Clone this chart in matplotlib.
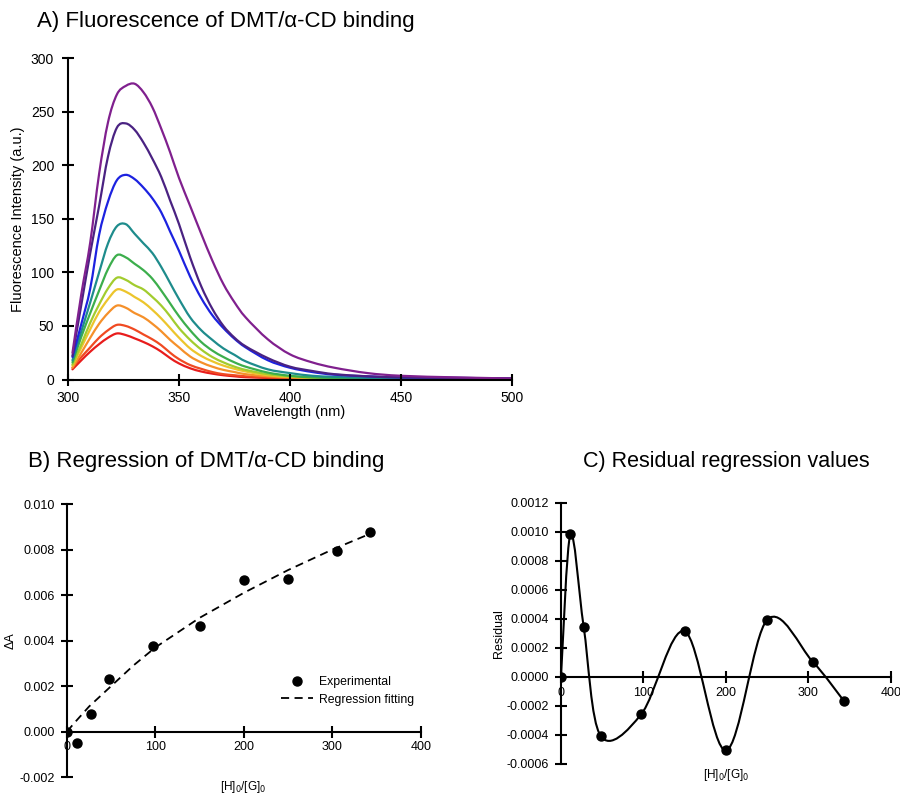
import matplotlib
matplotlib.use("Agg")
import matplotlib.pyplot as plt
from matplotlib.path import Path
from matplotlib.patches import PathPatch
from matplotlib.ticker import FormatStrFormatter, MultipleLocator

plt.rcParams['font.family'] = ['Liberation Sans', 'DejaVu Sans']
plt.rcParams['axes.unicode_minus'] = False

# ---------------- Panel A data ----------------
wavelength = [302, 306, 310, 314, 318, 322, 326, 330, 334, 338, 342, 346, 350, 355,
              360, 365, 370, 375, 380, 390, 400, 410, 420, 435, 450, 475, 500]
s_purple = [25, 80, 128, 192, 240, 266, 274, 276, 268, 254, 234, 212, 188, 162,
            136, 111, 89, 72, 58, 37.5, 23.5, 16, 11, 6, 3.5, 2, 1]
s_indigo = [22, 70, 118, 162, 208, 235, 239, 233, 221, 206, 189, 167, 145, 114,
            87, 66, 50, 39, 31, 20, 12, 8, 5, 3, 2, 1.5, 1]
s_blue = [21, 52, 85, 135, 166, 186, 191, 187, 179, 169, 156, 138, 120, 96,
          76, 60, 48, 38, 30, 18, 11, 7, 4.5, 3, 2, 1.5, 1]
s_teal = [18, 45, 72, 100, 127, 143, 145, 136, 127, 118, 105, 90, 75, 58,
          46, 37, 29, 23, 17, 9.5, 6, 3.5, 2.5, 1.5, 1, 0.8, 0.5]
s_green = [16, 40, 62, 83, 103, 116, 114, 108, 102, 94, 83, 71, 59, 46,
           35, 27, 21, 16, 12, 6.5, 3.5, 2, 1.5, 1, 0.8, 0.5, 0.5]
s_ygreen = [14, 33, 53, 70, 85, 95, 93, 88, 84, 77, 69, 59, 48, 37,
            28, 21, 16, 12, 9, 5, 3, 2, 1.2, 0.8, 0.6, 0.5, 0.4]
s_yellow = [13, 30, 47, 63, 75, 84, 82, 77, 72, 65, 57, 48, 39, 29,
            22, 17, 13, 10, 7.5, 4, 2.5, 1.5, 1, 0.7, 0.5, 0.4, 0.3]
s_orange = [11, 25, 39, 52, 62, 69, 67, 62, 58, 52, 45, 37, 30, 21.5,
            16, 12, 9, 7, 5, 3, 2, 1.2, 0.8, 0.6, 0.5, 0.4, 0.3]
s_redor = [11, 21, 30, 39, 46, 51, 50, 46.6, 42, 37.5, 32, 25, 19, 13.5,
           10, 7, 5, 4, 3, 2, 1.2, 1, 0.8, 0.6, 0.5, 0.4, 0.3]
s_red = [9.5, 18, 26, 33, 39, 43, 41.5, 38.4, 35, 31, 26, 20, 15, 10.5,
         7.5, 5.5, 4, 3, 2.2, 1.5, 1, 0.8, 0.6, 0.5, 0.4, 0.3, 0.3]
spectra = [s_red, s_redor, s_orange, s_yellow, s_ygreen, s_green, s_teal, s_blue, s_indigo, s_purple]
spectra_colors = ['#e81c1c', '#f04a22', '#f5902a', '#ecc52c', '#a2cc2e', '#3cae4c',
                  '#1e8c8c', '#1c22e0', '#4a2282', '#80208e']

# ---------------- Panel B data ----------------
ratio = [0, 11.5, 27.5, 48, 97.5, 150, 200, 250, 305, 343]
delta_a = [0.0, -0.00051, 0.00077, 0.00232, 0.00378, 0.00466, 0.00664, 0.00672, 0.00795, 0.00877]
fit_x = [0, 10, 25, 50, 75, 100, 150, 200, 250, 300, 343]
fit_y = [0.0, 0.00045, 0.0011, 0.0020, 0.0029, 0.0037, 0.0050, 0.0061, 0.0071, 0.0080, 0.0087]

# ---------------- Panel C data ----------------
residual = [0.0, 0.000986, 0.000347, -0.000405, -0.000255, 0.000315, -0.000506, 0.000395, 0.000106, -0.000166]


def smooth_path(xs, ys):
    """Excel-style smoothed line: cubic Bezier segments through the given points."""
    verts = [(xs[0], ys[0])]
    codes = [Path.MOVETO]
    n = len(xs)
    for i in range(n - 1):
        x0, y0 = xs[i], ys[i]
        x1, y1 = xs[i + 1], ys[i + 1]
        xm, ym = (xs[i - 1], ys[i - 1]) if i > 0 else (x0, y0)
        xp, yp = (xs[i + 2], ys[i + 2]) if i + 2 < n else (x1, y1)
        c1 = (x0 + (x1 - xm) / 6, y0 + (y1 - ym) / 6)
        c2 = (x1 - (xp - x0) / 6, y1 - (yp - y0) / 6)
        verts += [c1, c2, (x1, y1)]
        codes += [Path.CURVE4, Path.CURVE4, Path.CURVE4]
    return Path(verts, codes)


fig = plt.figure(figsize=(9, 7.95), dpi=100)

tick_kw = dict(direction='inout', length=8, width=1.5, colors='black')

# ---------------- Panel A ----------------
axA = fig.add_axes([0.0756, 0.5226, 0.4933, 0.4044])
for s, c in zip(spectra, spectra_colors):
    axA.add_patch(PathPatch(smooth_path(wavelength, s), facecolor='none', edgecolor=c,
                            lw=1.6, joinstyle='round', capstyle='round'))
axA.set_xlim(300, 500)
axA.set_ylim(0, 300)
axA.xaxis.set_major_locator(MultipleLocator(50))
axA.yaxis.set_major_locator(MultipleLocator(50))
for side in ['top', 'right']:
    axA.spines[side].set_visible(False)
for side in ['left', 'bottom']:
    axA.spines[side].set_linewidth(1.5)
axA.tick_params(axis='both', labelsize=10, pad=4, **tick_kw)
axA.tick_params(axis='y', pad=6)
axA.set_xlabel('Wavelength (nm)', fontsize=10.5)
axA.set_ylabel('Fluorescence Intensity (a.u.)', fontsize=10.5)
axA.xaxis.set_label_coords(0.5, -0.078)
axA.yaxis.set_label_coords(-0.097, 0.5)
fig.text(37 / 900, 1 - 22 / 795, 'A) Fluorescence of DMT/α-CD binding', fontsize=16,
         ha='left', va='center')

# ---------------- Panel B ----------------
axB = fig.add_axes([0.0744, 0.0226, 0.3933, 0.3434])
axB.plot(ratio, delta_a, 'o', color='black', ms=6.5, label='Experimental', zorder=3)
axB.plot(fit_x, fit_y, '--', color='black', lw=1.3, dashes=(4.5, 3), label='Regression fitting')
axB.set_xlim(0, 400)
axB.set_ylim(-0.002, 0.010)
axB.xaxis.set_major_locator(MultipleLocator(100))
axB.yaxis.set_major_locator(MultipleLocator(0.002))
axB.yaxis.set_major_formatter(FormatStrFormatter('%.3f'))
axB.spines['bottom'].set_position(('data', 0))
for side in ['top', 'right']:
    axB.spines[side].set_visible(False)
for side in ['left', 'bottom']:
    axB.spines[side].set_linewidth(1.5)
axB.tick_params(axis='both', labelsize=9, pad=3, **tick_kw)
axB.tick_params(axis='y', pad=5)
axB.set_ylabel('ΔA', fontsize=9)
axB.yaxis.set_label_coords(-0.141, 0.5)
axB.text(0.497, -0.035, '[H]$_0$/[G]$_0$', transform=axB.transAxes, fontsize=8.5,
         ha='center', va='center')
axB.legend(loc='upper left', bbox_to_anchor=(0.604, 0.37), frameon=False, fontsize=8.8,
           handlelength=2.6, handletextpad=0.5, labelspacing=0.45, borderpad=0, borderaxespad=0)
fig.text(28 / 900, 1 - 462 / 795, 'B) Regression of DMT/α-CD binding', fontsize=16,
         ha='left', va='center')

# ---------------- Panel C ----------------
axC = fig.add_axes([0.6233, 0.039, 0.3667, 0.3283])
axC.add_patch(PathPatch(smooth_path(ratio, residual), facecolor='none', edgecolor='black', lw=1.5))
axC.plot(ratio, residual, 'o', color='black', ms=6.5, zorder=3)
axC.set_xlim(0, 400)
axC.set_ylim(-0.0006, 0.0012)
axC.xaxis.set_major_locator(MultipleLocator(100))
axC.yaxis.set_major_locator(MultipleLocator(0.0002))
axC.yaxis.set_major_formatter(FormatStrFormatter('%.4f'))
axC.spines['bottom'].set_position(('data', 0))
for side in ['top', 'right']:
    axC.spines[side].set_visible(False)
for side in ['left', 'bottom']:
    axC.spines[side].set_linewidth(1.5)
axC.tick_params(axis='both', labelsize=9, pad=3, **tick_kw)
axC.tick_params(axis='y', pad=5)
axC.set_ylabel('Residual', fontsize=9)
axC.yaxis.set_label_coords(-0.17, 0.5)
axC.text(0.502, -0.042, '[H]$_0$/[G]$_0$', transform=axC.transAxes, fontsize=8.5,
         ha='center', va='center')
fig.text(583 / 900, 1 - 462 / 795, 'C) Residual regression values', fontsize=15.5,
         ha='left', va='center')

fig.savefig('out.png', dpi=100)
